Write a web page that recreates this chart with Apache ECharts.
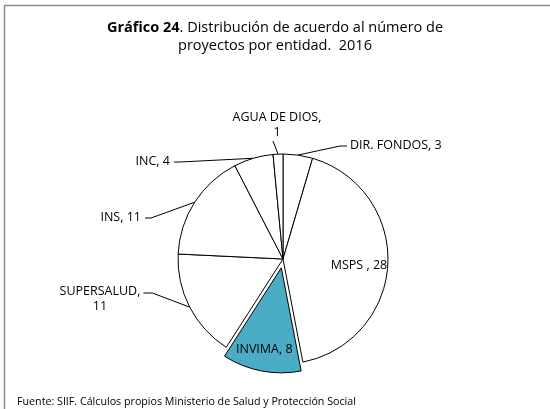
<!DOCTYPE html>
<html>
<head>
<meta charset="utf-8">
<script src="https://cdn.jsdelivr.net/npm/echarts@6/dist/echarts.min.js"></script>
<style>
html,body{margin:0;padding:0;background:#fff;}
#c{width:550px;height:409px;}
</style>
</head>
<body>
<div id="c"></div>
<script>
const categories = ['DIR. FONDOS', 'MSPS ', 'INVIMA', 'SUPERSALUD', 'INS', 'INC', 'AGUA DE DIOS'];
const values = [3, 28, 8, 11, 11, 4, 1];
const titleText = '{b|Gráfico 24}. Distribución de acuerdo al número de\nproyectos por entidad.  2016';
const sourceText = 'Fuente: SIIF. Cálculos propios Ministerio de Salud y Protección Social';

const FONT = '"Open Sans", Lato, sans-serif';
const insideLabels = {'MSPS ': true, 'INVIMA': true};
const wrapLabels = {'AGUA DE DIOS': true, 'SUPERSALUD': true};

// label placement (styling only, not data)
const labelPlace = {
  'AGUA DE DIOS': { x: 277, y: 125, align: 'center', line: 'bottom' },
  'DIR. FONDOS': { x: 350, y: 145, align: 'left', line: 'left' },
  'INC': { x: 170, y: 161, align: 'right', line: 'right' },
  'INS': { x: 141, y: 217, align: 'right', line: 'right' },
  'SUPERSALUD': { x: 100, y: 299, align: 'center', line: 'rightTop' },
  'MSPS ': { x: 359, y: 265, align: 'center' },
  'INVIMA': { x: 266, y: 341, align: 'center', shift: true }
};

const data = categories.map((name, i) => {
  const item = {
    name: name,
    value: values[i],
    itemStyle: { color: name === 'INVIMA' ? '#4BACC6' : '#ffffff' }
  };
  if (name === 'INVIMA') item.selected = true;
  if (insideLabels[name]) {
    item.label = { position: 'inside' };
    item.labelLine = { show: false };
  }
  return item;
});

const chart = echarts.init(document.getElementById('c'), null, {renderer: 'canvas'});
chart.setOption({
  animation: false,
  backgroundColor: '#ffffff',
  title: [{
    text: titleText,
    left: 'center',
    top: 14,
    textStyle: {
      fontFamily: FONT, fontSize: 14.5, fontWeight: 'normal', color: '#000', lineHeight: 18,
      rich: { b: { fontFamily: FONT, fontSize: 14.5, fontWeight: 'bold', color: '#000', lineHeight: 18 } }
    }
  }, {
    text: sourceText,
    left: 12,
    top: 391,
    textStyle: { fontFamily: FONT, fontSize: 10.7, fontWeight: 'normal', color: '#000' }
  }],
  graphic: [{
    type: 'rect',
    shape: { x: 4.5, y: 5.5, width: 600, height: 500 },
    style: { fill: 'none', stroke: '#8c8c8c', lineWidth: 1.5 },
    silent: true
  }],
  series: [{
    type: 'pie',
    center: [283, 259],
    radius: [0, 105],
    startAngle: 90,
    clockwise: true,
    selectedMode: 'single',
    selectedOffset: 9,
    data: data,
    itemStyle: { borderColor: '#000', borderWidth: 1 },
    emphasis: { disabled: true },
    label: {
      show: true,
      color: '#000',
      fontFamily: FONT,
      fontSize: 12.5,
      lineHeight: 15,
      align: 'center',
      formatter: p => wrapLabels[p.name] ? p.name + ',\n' + p.value : p.name + ', ' + p.value
    },
    labelLine: {
      show: true,
      length: 14,
      length2: 8,
      lineStyle: { color: '#000', width: 1 }
    },
    labelLayout: function (params) {
      const name = categories[params.dataIndex];
      const pl = labelPlace[name];
      if (!pl) return {};
      const r = params.labelRect;
      if (pl.shift) {
        return {
          dx: pl.x - (r.x + r.width / 2),
          dy: pl.y - (r.y + r.height / 2)
        };
      }
      const out = { x: pl.x, y: pl.y, align: pl.align, verticalAlign: 'middle' };
      const pts = params.labelLinePoints;
      if (pl.line && pts && pts.length) {
        const a = pts[0];
        let end, elbow;
        if (pl.line === 'bottom') {
          end = [pl.x - 4, pl.y + r.height / 2 + 1];
          elbow = end;
        } else if (pl.line === 'left') {
          end = [pl.x - 3, pl.y + 1];
          elbow = [pl.x - 10, pl.y + 1];
        } else if (pl.line === 'right') {
          end = [pl.x + 4, pl.y + 1];
          elbow = [pl.x + 10, pl.y + 1];
        } else {
          end = [pl.x + r.width / 2 + 3, pl.y - 6];
          elbow = [pl.x + r.width / 2 + 12, pl.y - 6];
        }
        out.labelLinePoints = [a, elbow, end];
      }
      return out;
    }
  }]
});
</script>
</body>
</html>
